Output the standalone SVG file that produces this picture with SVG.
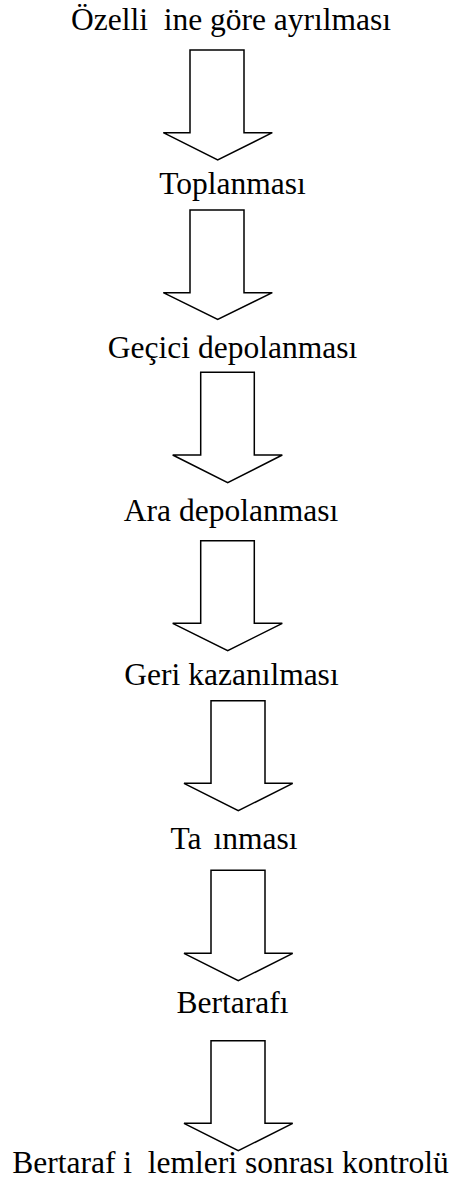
<svg xmlns="http://www.w3.org/2000/svg" width="452" height="1184" viewBox="0 0 452 1184">
<style>
.t{font-family:"Liberation Serif","Times New Roman",serif;font-size:31.5px;fill:#000;text-anchor:middle;white-space:pre}
.a{fill:#fff;stroke:#000;stroke-width:1.5;stroke-linejoin:miter}
</style>
<rect width="452" height="1184" fill="#fff"/>
<g id="n1"><text class="t" x="231" y="30" xml:space="preserve">Özelli  ine göre ayrılması</text></g>
<g id="n2"><text class="t" x="232.5" y="194">Toplanması</text></g>
<g id="n3"><text class="t" x="232.5" y="358">Geçici depolanması</text></g>
<g id="n4"><text class="t" x="231" y="521">Ara depolanması</text></g>
<g id="n5"><text class="t" x="231.5" y="685">Geri kazanılması</text></g>
<g id="n6"><text class="t" x="234" y="849" word-spacing="4">Ta ınması</text></g>
<g id="n7"><text class="t" x="232.5" y="1013">Bertarafı</text></g>
<g id="n8"><text class="t" x="230.5" y="1173" xml:space="preserve">Bertaraf i  lemleri sonrası kontrolü</text></g>
<g id="connectors">
<path class="a" d="M190,50 H244 V132.7 H272.3 L217.7,160 L163.3,132.7 H190 Z"/>
<path class="a" d="M190,210 H244 V292.7 H272.3 L217.7,319.5 L163.3,292.7 H190 Z"/>
<path class="a" d="M200.7,372.3 H254.3 V455 H282.3 L227.7,482.7 L172.7,455 H200.7 Z"/>
<path class="a" d="M200.7,540.7 H254.3 V623.3 H282.3 L227.7,650.7 L172.7,623.3 H200.7 Z"/>
<path class="a" d="M211,700.7 H265 V783.3 H292.7 L238.3,810.7 L184,783.3 H211 Z"/>
<path class="a" d="M211,870.3 H265 V953.3 H292.7 L238.3,980.7 L184,953.3 H211 Z"/>
<path class="a" d="M211,1040.7 H265 V1123.3 H292.7 L238.3,1150.7 L184,1123.3 H211 Z"/>
</g>
</svg>
